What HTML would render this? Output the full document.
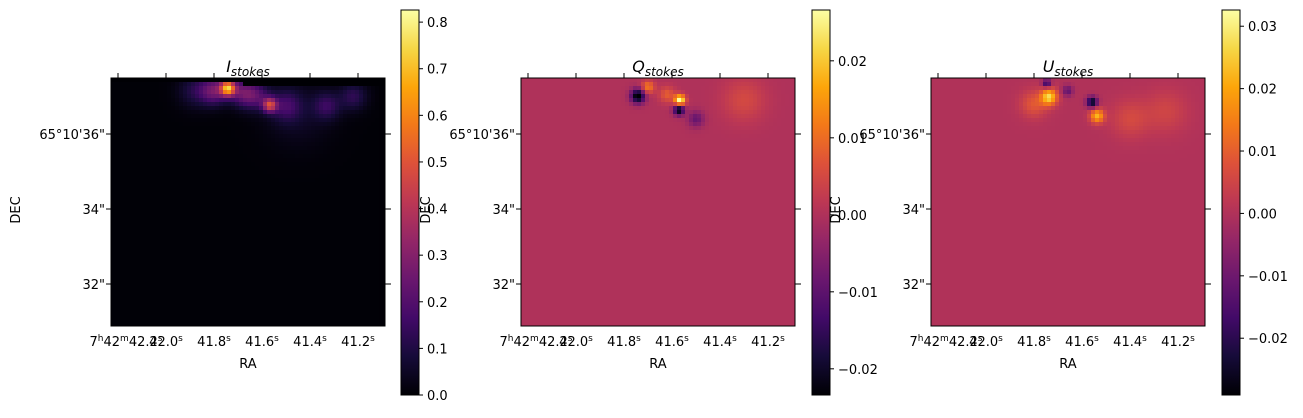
<!DOCTYPE html>
<html><head><meta charset="utf-8"><style>
body{margin:0;background:#fff;width:1303px;height:413px;overflow:hidden;font-family:"Liberation Sans","DejaVu Sans",sans-serif}
svg text{font-family:"DejaVu Sans","Liberation Sans",sans-serif;font-size:13px;fill:#000}
</style></head><body>
<svg id="fig" width="1303" height="413" viewBox="0 0 1303 413" xmlns="http://www.w3.org/2000/svg"></svg>
<script>
// ---- data (RA seconds, Dec arcsec offset within 65°10', amplitude, sigma arcsec) ----
const raTicks = [42.2, 42.0, 41.8, 41.6, 41.4, 41.2];
const raTickLabels = ["7h42m42.2s","42.0s","41.8s","41.6s","41.4s","41.2s"];
const decTicks = [36, 34, 32];
const decTickLabels = ["65°10'36\"","34\"","32\""];
const iBlobsRa  = [41.742, 41.567, 41.80, 41.68, 41.62, 41.50, 41.33, 41.22, 41.88, 41.45];
const iBlobsDec = [37.22, 36.77, 37.15, 37.10, 37.0, 36.75, 36.75, 37.0, 37.15, 36.55];
const iBlobsAmp = [0.62, 0.40, 0.25, 0.22, 0.16, 0.14, 0.13, 0.12, 0.10, 0.05];
const iBlobsSig = [0.14, 0.13, 0.25, 0.25, 0.25, 0.28, 0.25, 0.25, 0.3, 0.6];
const qBlobsRa  = [41.742, 41.567, 41.571, 41.70, 41.50, 41.62, 41.30];
const qBlobsDec = [37.01, 36.90, 36.64, 37.25, 36.40, 37.05, 36.90];
const qBlobsAmp = [-0.026, 0.028, -0.024, 0.012, -0.009, 0.008, 0.005];
const qBlobsSig = [0.13, 0.1, 0.1, 0.12, 0.15, 0.15, 0.4];
const uBlobsRa  = [41.737, 41.558, 41.537, 41.747, 41.66, 41.80, 41.40, 41.25];
const uBlobsDec = [36.99, 36.85, 36.48, 37.35, 37.15, 36.80, 36.40, 36.60];
const uBlobsAmp = [0.026, -0.028, 0.022, -0.02, -0.012, 0.009, 0.006, 0.005];
const uBlobsSig = [0.15, 0.1, 0.13, 0.08, 0.1, 0.25, 0.35, 0.4];
const iBg = 0.005, qBg = 0.0, uBg = 0.0;
const cbI = [0.0, 0.826], cbQ = [-0.0234, 0.0266], cbU = [-0.0291, 0.0326];
const cbITicks = [0.0,0.1,0.2,0.3,0.4,0.5,0.6,0.7,0.8];
const cbQTicks = [-0.02,-0.01,0.0,0.01,0.02];
const cbUTicks = [-0.02,-0.01,0.0,0.01,0.02,0.03];

const infernoStops=[[0,0,4],[22,11,57],[66,10,104],[106,23,110],[147,38,103],[188,55,84],[221,81,58],[243,120,25],[252,165,10],[246,215,70],[252,255,164]];
function inferno(t){t=Math.max(0,Math.min(1,t));const f=t*10,i=Math.min(9,Math.floor(f)),r=f-i;const a=infernoStops[i],b=infernoStops[i+1];return 'rgb('+a.map((v,k)=>Math.round(v+(b[k]-v)*r)).join(',')+')';}

const svg=document.getElementById('fig');const NS='http://www.w3.org/2000/svg';
function el(tag,attrs,parent){const e=document.createElementNS(NS,tag);for(const k in attrs)e.setAttribute(k,attrs[k]);(parent||svg).appendChild(e);return e;}

const panels=[
 {x0:111,cb:401,name:'i',title:'I',ra:iBlobsRa,dec:iBlobsDec,amp:iBlobsAmp,sig:iBlobsSig,bg:iBg,lim:cbI,ticks:cbITicks,fmt:v=>v.toFixed(1),mask:true},
 {x0:521,cb:812,name:'q',title:'Q',ra:qBlobsRa,dec:qBlobsDec,amp:qBlobsAmp,sig:qBlobsSig,bg:qBg,lim:cbQ,ticks:cbQTicks,fmt:v=>v.toFixed(2).replace('-','\u2212')},
 {x0:931,cb:1222,name:'u',title:'U',ra:uBlobsRa,dec:uBlobsDec,amp:uBlobsAmp,sig:uBlobsSig,bg:uBg,lim:cbU,ticks:cbUTicks,fmt:v=>v.toFixed(2).replace('-','\u2212')}
];
const W=274,H=248,Y0=78;
panels.forEach(p=>{
  const g=el('g',{});
  
  
  const xOf=ra=>p.x0+7+(42.2-ra)*240;
  const yOf=d=>134-(d-36)*37.5;
  const raOf=x=>42.2-(x-p.x0-7)/240;
  const decOf=y=>36+(134-y)/37.5;
  const cell=4;
  const img=el('g',{},g);
  
  
  for(let y=Y0;y<Y0+H;y+=cell){for(let x=p.x0;x<p.x0+W;x+=cell){
    const ra=raOf(x+cell/2),de=decOf(y+cell/2);
    let v=p.bg;
    for(let k=0;k<p.ra.length;k++){const dx=(ra-p.ra[k])*240/37.5,dy=de-p.dec[k];v+=p.amp[k]*Math.exp(-(dx*dx+dy*dy)/(2*p.sig[k]*p.sig[k]));}
    if(p.mask){ if(y<Y0+8 && !(x<p.x0+130 && y>=Y0+4)) v=0; else if(x>p.x0+W-10) v*=0.5; }
    el('rect',{x:x,y:y,width:Math.min(cell,p.x0+W-x),height:Math.min(cell,Y0+H-y),fill:inferno((v-p.lim[0])/(p.lim[1]-p.lim[0]))},img);
  }}
  el('rect',{x:p.x0,y:Y0,width:W,height:H,fill:'none',stroke:'#000','stroke-width':1},g);
  raTicks.forEach((r,i)=>{const x=xOf(r);
    el('line',{x1:x,y1:Y0,x2:x,y2:Y0-5,stroke:'#000'},g);
    const t=el('text',{x:x,y:Y0+H+20,'text-anchor':'middle'},g);
    
    const m=raTickLabels[i].match(/^(7)h(42)m([\d.]+)s$/);
    if(m){t.innerHTML='7<tspan dy="-5" font-size="9">h</tspan><tspan dy="5">42</tspan><tspan dy="-5" font-size="9">m</tspan><tspan dy="5">'+m[3]+'</tspan><tspan dy="-5" font-size="9">s</tspan>';t.setAttribute('x',x+8);}
    else t.innerHTML=raTickLabels[i].replace('s','')+'<tspan dy="-5" font-size="9">s</tspan>';
  });
  decTicks.forEach((d,i)=>{const y=yOf(d);
    el('line',{x1:p.x0,y1:y,x2:p.x0-5,y2:y,stroke:'#000'},g);
    el('line',{x1:p.x0+W,y1:y,x2:p.x0+W+6,y2:y,stroke:'#000'},g);
    const t=el('text',{x:p.x0-6,y:y+5,'text-anchor':'end'},g);t.textContent=decTickLabels[i];
    
  });
  const ti=el('text',{x:p.x0+W/2,y:Y0-6,'text-anchor':'middle','font-size':'15'},g);
  ti.innerHTML='<tspan font-style="italic" font-size="16">'+p.title+'</tspan><tspan font-style="italic" font-size="12" dy="4">stokes</tspan>';
  
  const xl=el('text',{x:p.x0+W/2,y:368,'text-anchor':'middle'},g);xl.textContent='RA';
  
  const yl=el('text',{x:0,y:0,'text-anchor':'middle',transform:'translate('+(p.x0-91)+',210) rotate(-90)'},g);yl.textContent='DEC';
  
  // colorbar
  const cb=el('g',{},g);
  
  const gid='grad'+p.name;const lg=el('linearGradient',{id:gid,x1:0,y1:1,x2:0,y2:0},svg);
  for(let s=0;s<=10;s++)el('stop',{offset:s/10,'stop-color':inferno(s/10)},lg);
  el('rect',{x:p.cb,y:10,width:18,height:385,fill:'url(#'+gid+')',stroke:'#000'},cb);
  const cy=v=>395-(v-p.lim[0])/(p.lim[1]-p.lim[0])*385;
  p.ticks.forEach(v=>{const y=cy(v);
    el('line',{x1:p.cb+18,y1:y,x2:p.cb+22,y2:y,stroke:'#000'},cb);
    const t=el('text',{x:p.cb+26,y:y+5},cb);t.textContent=p.fmt(v);
    
  });
});
</script>
</body></html>
